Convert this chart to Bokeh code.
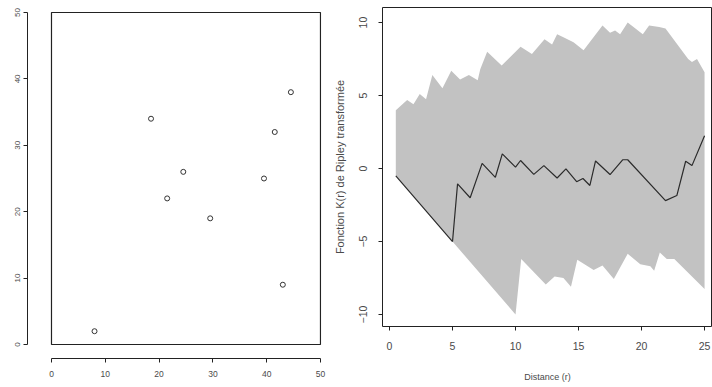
from bokeh.plotting import figure
from bokeh.layouts import row, column
from bokeh.models import Range1d, FixedTicker
from bokeh.embed import file_html
from bokeh.resources import INLINE

# --- point pattern (left panel) ---
pts_x = [8, 18.5, 21.5, 24.5, 29.5, 39.5, 41.5, 43, 44.5]
pts_y = [2, 34, 22, 26, 19, 25, 32, 9, 38]
plot_ticks = [0, 10, 20, 30, 40, 50]

# --- transformed Ripley K function (right panel) ---
upper_r = [0.5, 1.4, 1.9, 2.4, 2.9, 3.4, 4.2, 4.9, 5.6, 6.3, 7.0, 7.2, 7.75,
           8.9, 10.4, 11.3, 12.3, 12.9, 13.3, 13.8, 14.6, 15.4, 16.9, 17.5,
           17.9, 18.3, 18.9, 20.1, 20.6, 21.4, 21.9, 23.7, 24.0, 24.4, 25.0]
upper_v = [4.0, 4.7, 4.4, 5.1, 4.75, 6.4, 5.5, 6.7, 6.1, 6.4, 6.05, 6.8, 8.0,
           7.05, 8.35, 7.85, 8.85, 8.5, 9.2, 9.0, 8.65, 8.1, 9.8, 9.3,
           9.45, 9.2, 10.0, 9.2, 9.8, 9.7, 9.6, 7.5, 7.3, 7.5, 6.6]

lower_r = [0.5, 10.0, 10.45, 12.4, 13.1, 13.8, 14.4, 14.9, 16.2, 16.9, 17.8,
           18.9, 19.9, 20.7, 21.0, 21.45, 22.0, 22.6, 25.0]
lower_v = [-0.5, -10.0, -6.2, -7.95, -7.4, -7.5, -8.1, -6.25, -6.95, -6.65,
           -7.56, -5.84, -6.55, -6.7, -7.0, -5.75, -6.2, -6.2, -8.25]

obs_r = [0.5, 5.0, 5.4, 6.4, 7.35, 8.4, 8.95, 10.0, 10.4, 11.45, 12.25, 13.3,
         14.0, 14.85, 15.35, 15.9, 16.35, 17.5, 18.5, 18.9, 21.9, 22.8, 23.5,
         24.0, 25.0]
obs_v = [-0.5, -5.0, -1.05, -2.0, 0.35, -0.6, 1.0, 0.1, 0.55, -0.4, 0.2, -0.65,
         -0.02, -0.9, -0.68, -1.16, 0.52, -0.41, 0.6, 0.6, -2.2, -1.85, 0.5,
         0.2, 2.25]
r_ticks = [0, 5, 10, 15, 20, 25]
k_ticks = [-10, -5, 0, 5, 10]

FONT = "Liberation Sans"
TXT = "#4a4a4a"


def style_axis(ax, ticks, bounds, size):
    ax.ticker = FixedTicker(ticks=ticks)
    ax.bounds = bounds
    ax.minor_tick_line_color = None
    ax.major_tick_in = 0
    ax.major_tick_out = 4
    ax.axis_line_color = "#222222"
    ax.major_tick_line_color = "#222222"
    ax.major_label_text_font = FONT
    ax.major_label_text_font_size = size
    ax.major_label_text_color = TXT
    ax.axis_label_text_font = FONT
    ax.axis_label_text_font_style = "normal"
    ax.axis_label_text_color = TXT


# left panel: points in a 50 x 50 window, axes set off from the box
p1 = figure(width=330, height=387, x_range=Range1d(-4.46, 50.19),
            y_range=Range1d(-2.11, 50.3), output_backend="svg",
            toolbar_location=None, min_border_left=27, min_border_right=9,
            min_border_top=10, min_border_bottom=29)
p1.outline_line_color = None
p1.xgrid.visible = False
p1.ygrid.visible = False
style_axis(p1.xaxis[0], plot_ticks, (0, 50), "8.5px")
style_axis(p1.yaxis[0], plot_ticks, (0, 50), "8px")
p1.xaxis.major_label_standoff = 8
p1.yaxis.major_label_standoff = 3
p1.yaxis.major_label_orientation = "vertical"

p1.quad(left=plot_ticks[0], right=plot_ticks[-1], bottom=plot_ticks[0],
        top=plot_ticks[-1], fill_color=None, line_color="#222222",
        line_width=1.2)
p1.scatter(pts_x, pts_y, marker="circle", size=5, fill_color=None,
           line_color="#333333", line_width=1)

# right panel: simulation envelope and observed curve
p2 = figure(width=382, height=387, x_range=Range1d(-0.556, 25.63),
            y_range=Range1d(-10.82, 11.03), output_backend="svg",
            toolbar_location=None, min_border_left=52, min_border_right=0,
            min_border_top=7, min_border_bottom=61)
p2.outline_line_color = "#222222"
p2.xgrid.visible = False
p2.ygrid.visible = False
style_axis(p2.xaxis[0], r_ticks, (0, 25), "10.5px")
style_axis(p2.yaxis[0], k_ticks, (-10, 10), "10.5px")
p2.xaxis.axis_label = "Distance (r)"
p2.xaxis.axis_label_text_font_size = "9px"
p2.xaxis.major_label_standoff = 11
p2.xaxis.axis_label_standoff = 19
p2.yaxis.axis_label = "Fonction K(r) de Ripley transformée"
p2.yaxis.axis_label_text_font_size = "11px"
p2.yaxis.major_label_orientation = "vertical"
p2.yaxis.major_label_standoff = 11
p2.yaxis.axis_label_standoff = 11

env_x = upper_r + lower_r[::-1]
env_y = upper_v + lower_v[::-1]
p2.patch(env_x, env_y, fill_color="#c2c2c2", line_color=None)
p2.line(obs_r, obs_v, line_color="#2b2b2b", line_width=1.2)

# each panel in its own column so the two frames keep their own borders
layout = row(column(p1), column(p2), spacing=0)
open("out.html", "w").write(file_html(layout, INLINE))
